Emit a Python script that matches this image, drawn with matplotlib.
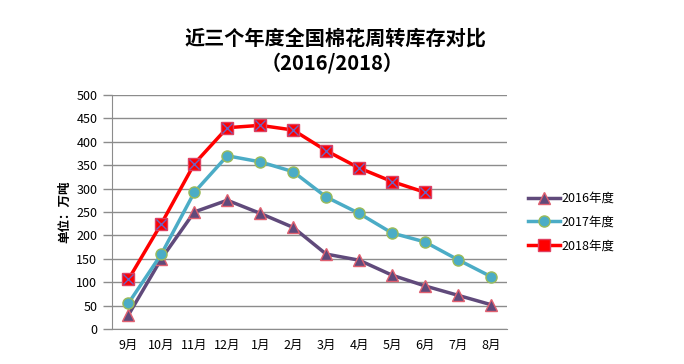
import matplotlib
matplotlib.use("Agg")
import matplotlib.pyplot as plt
import numpy as np
from matplotlib.lines import Line2D

plt.rcParams['font.family'] = ['Noto Sans CJK SC', 'DejaVu Sans']

#--------------------------------------------------------------------------
# Data
#--------------------------------------------------------------------------
months = ['9月', '10月', '11月', '12月', '1月', '2月', '3月', '4月', '5月', '6月', '7月', '8月']
stock_2016 = [30, 150, 250, 275, 247, 217, 160, 147, 115, 92, 72, 52]
stock_2017 = [55, 160, 292, 370, 357, 336, 282, 247, 205, 186, 148, 112]
stock_2018 = [106, 225, 353, 430, 435, 425, 381, 344, 315, 292]
series_names = ['2016年度', '2017年度', '2018年度']

#--------------------------------------------------------------------------
# Plotting
#--------------------------------------------------------------------------
fig = plt.figure(figsize=(6.84, 3.64), dpi=100)
ax = fig.add_axes([0.1637, 0.0962, 0.578, 0.643])

x = np.arange(len(months))
ax.plot(x, stock_2016, color='#604A7B', lw=2.5, marker='^', ms=8,
        mfc='#604A7B', mec='#E06070', mew=1, zorder=3)
ax.plot(x, stock_2017, color='#4BACC6', lw=2.5, marker='o', ms=8,
        mfc='#4BACC6', mec='#9BBB59', mew=1, zorder=3)
x18 = x[:len(stock_2018)]
ax.plot(x18, stock_2018, color='#FF0000', lw=2.5, marker='s', ms=8,
        mfc='#FF0000', mec='#E04060', mew=1, zorder=4)
ax.plot(x18, stock_2018, ls='none', marker='x', ms=7, mec='#7060C0', mew=1, zorder=5)

ax.set_xlim(-0.5, len(months) - 0.5)
ax.set_ylim(0, 500)
ax.set_yticks(np.arange(0, 501, 50))
ax.set_xticks(x)
ax.set_xticklabels(months)
ax.tick_params(axis='y', labelsize=9, length=6.5, width=1, color='#8C8C8C', pad=4)
ax.tick_params(axis='x', labelsize=9, length=0, pad=7)
ax.yaxis.grid(True, color='#8C8C8C', lw=1)
ax.set_axisbelow(True)
for s in ['top', 'right']:
    ax.spines[s].set_visible(False)
for s in ['left', 'bottom']:
    ax.spines[s].set_color('#8C8C8C')

ax.set_ylabel('单位：万吨', fontsize=9, fontweight='bold', labelpad=4)

fig.text(0.491, 0.895, '近三个年度全国棉花周转库存对比', ha='center', va='center',
         fontsize=14.5, fontweight='bold')
fig.text(0.485, 0.827, '（2016/2018）', ha='center', va='center',
         fontsize=14.5, fontweight='bold')

handles = [
    Line2D([], [], color='#604A7B', lw=2.5, marker='^', ms=8, mfc='#604A7B', mec='#E06070'),
    Line2D([], [], color='#4BACC6', lw=2.5, marker='o', ms=8, mfc='#4BACC6', mec='#9BBB59'),
    Line2D([], [], color='#FF0000', lw=2.5, marker='s', ms=8, mfc='#FF0000', mec='#E04060'),
]
fig.legend(handles, series_names, loc='center left', bbox_to_anchor=(0.755, 0.39),
           frameon=False, fontsize=9, handlelength=2.6, handletextpad=0.1,
           labelspacing=0.85)

fig.savefig('out.png', dpi=100)
print("Completed Successfully ...")
